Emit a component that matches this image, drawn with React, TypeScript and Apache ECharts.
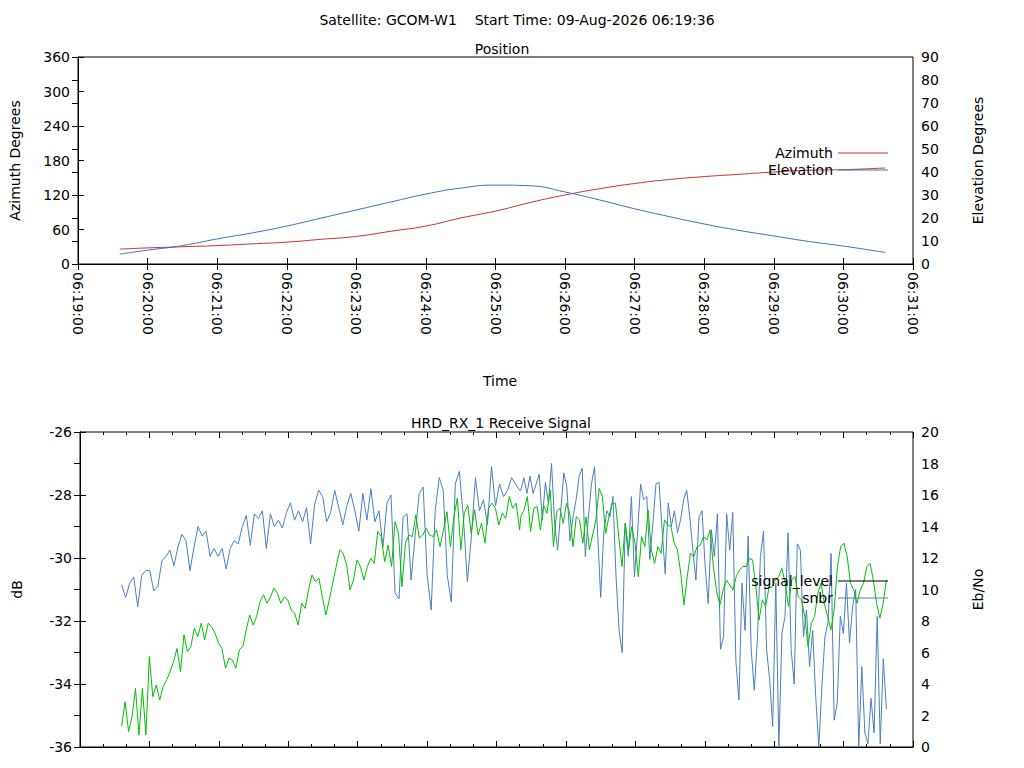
import { useEffect, useRef } from 'react'
import * as echarts from 'echarts'

// seconds after 06:19:00
const posTimes = [36, 60, 90, 120, 150, 180, 210, 240, 270, 300, 330, 360, 390, 420, 450, 480, 510, 540, 570, 600, 630, 660, 696]
const azimuth = [26, 28, 30, 32, 35, 38, 43, 48, 57, 66, 80, 92, 107, 120, 131, 140, 147, 152, 156, 160, 163, 164, 167]
const elevation = [4.3, 6, 8, 10.9, 13.5, 16.5, 20, 23.5, 27, 30.4, 33, 34.3, 34, 31.3, 27.8, 24, 20.6, 17.4, 14.6, 12.2, 9.8, 7.8, 5]

// snbr (Eb/No), two stretches of the pass
const snbrA = [10.3, 9.5, 10.4, 10.8, 8.9, 10.9, 11.2, 11.2, 9.9, 10.2, 11.8, 12.1, 12.5, 11.5, 12.7, 13.5, 13.1, 11.2, 12.7, 14.0, 13.4, 13.7, 12.1, 12.6, 12.1, 12.6, 11.3, 12.6, 13.1, 12.9, 14.0, 14.7, 12.8, 14.8, 14.5, 15.0, 12.6, 14.8, 14.0, 14.4, 13.9, 14.9, 15.5, 14.4, 15.0, 14.3, 15.2, 12.9, 15.4, 16.3, 15.9, 14.3, 14.9, 16.3, 15.2, 14.1, 15.3, 16.1, 15.0, 13.7, 16.1, 14.4, 16.4, 14.3, 15.0, 12.7, 15.5, 16.0, 9.8, 9.4, 14.6, 14.8, 10.6, 13.4, 16.1, 16.5, 10.9, 8.7, 15.0, 17.1, 16.3, 10.9, 9.2, 16.7, 17.5, 14.6, 10.5, 13.4, 17.1, 15.0, 15.7, 14.1, 17.8, 15.3, 16.7, 15.9, 16.3, 17.1, 16.7, 16.3]
const snbrB = [16.3, 17.1, 16.1, 17.2, 16.1, 16.7, 17.3, 14.4, 16.8, 15.5, 18.0, 14.2, 12.5, 15.0, 17.4, 16.5, 13.1, 14.6, 15.7, 17.2, 17.7, 12.1, 14.6, 16.7, 17.8, 13.6, 9.5, 13.6, 15.0, 14.6, 15.9, 10.8, 7.4, 6.0, 14.2, 12.1, 15.9, 10.8, 13.6, 16.7, 15.7, 15.9, 11.9, 14.2, 16.7, 16.8, 13.8, 11.0, 15.5, 14.0, 15.0, 13.6, 14.4, 15.7, 16.3, 14.6, 12.5, 10.6, 14.6, 15.0, 11.5, 9.1, 13.8, 12.1, 14.8, 6.2, 7.0, 14.8, 12.5, 14.9, 5.5, 3.0, 10.4, 7.4, 13.4, 6.2, 3.6, 6.8, 12.1, 13.7, 6.2, 4.3, 1.3, 10.4, 0, 7.2, 8.3, 13.6, 6.2, 4.0, 12.9, 12.5, 7.0, 8.7, 5.1, 7.4, 3.2, 0, 3.8, 7.0, 7.9, 12.3, 1.7, 2.8, 8.3, 7.2, 10.4, 6.6, 8.9, 10.0, 0, 5.1, 0.9, 0.2, 3.1, 0.9, 8.3, 0.2, 5.6, 2.4]

// signal level (dB)
const levelA = [-35.35, -34.56, -35.51, -35.04, -34.14, -35.62, -34.14, -35.62, -33.13, -34.40, -34.03, -34.51, -34.08, -33.87, -33.61, -33.29, -32.87, -33.61, -32.44, -32.97, -32.81, -32.23, -32.50, -32.07, -32.60, -32.07, -32.18, -32.39, -32.71, -32.87, -33.50, -33.18, -33.24, -33.50, -32.92, -32.81, -32.28, -31.81, -32.13, -31.86, -31.38, -31.17, -31.44, -31.23, -30.96, -31.12, -31.44, -31.23, -31.33, -31.65, -31.76, -32.13, -31.44, -31.60, -31.01, -30.54, -30.75, -30.64, -31.23, -31.81, -31.33, -30.80, -30.27, -29.74, -29.85, -30.22, -31.01, -30.70, -30.06, -30.27, -30.70, -30.27, -30.01, -30.17, -29.16, -29.32, -30.12, -29.59, -30.27, -28.85, -29.22, -30.91, -29.53, -29.27, -29.32, -28.63, -29.37, -29.27, -29.06, -29.27, -29.32, -29.11, -29.64, -29.11, -28.53, -29.64, -28.69, -28.10, -29.74, -28.58, -28.32, -29.22, -28.47, -29.27, -28.90, -29.53, -28.42, -28.26, -28.42, -28.95, -28.58, -28.74, -28.05, -28.42, -28.26, -29.11]
const levelB = [-28.69, -28.47, -28.05, -29.16, -28.42, -28.37, -29.11, -28.32, -28.58, -27.84, -29.64, -28.53, -28.42, -28.90, -28.26, -28.58, -29.64, -28.69, -28.79, -29.53, -28.69, -29.74, -29.27, -28.79, -27.79, -28.05, -29.22, -28.69, -28.26, -28.26, -29.32, -30.27, -28.90, -29.74, -29.00, -29.53, -30.59, -29.32, -29.64, -28.47, -29.74, -30.17, -29.64, -29.85, -28.79, -28.95, -29.00, -29.53, -29.74, -30.49, -31.49, -30.59, -29.85, -29.96, -29.64, -29.59, -29.32, -29.43, -29.11, -30.27, -31.07, -31.49, -31.01, -30.70, -30.86, -31.01, -30.59, -30.38, -30.27, -30.27, -30.01, -30.06, -30.91, -31.97, -31.33, -31.54, -30.96, -30.91, -30.70, -30.59, -30.33, -30.80, -31.54, -30.70, -30.59, -31.23, -31.33, -31.86, -32.81, -32.07, -31.86, -31.12, -30.80, -31.44, -31.86, -32.28, -31.65, -30.27, -29.64, -29.53, -29.96, -30.80, -31.01, -31.44, -31.01, -30.80, -30.27, -30.17, -30.70, -31.44, -31.91, -31.44, -30.70]

const spread = (vals: number[], t0: number, t1: number) =>
  vals.map((v, i) => [t0 + ((t1 - t0) * i) / (vals.length - 1), v])

const F = 'DejaVu Sans'
const fmt = (s: number) => {
  const m = 19 + Math.floor(s / 60)
  return `06:${String(m).padStart(2, '0')}:00`
}

const xBase = (show: boolean, grid: number, top = false) => ({
  type: 'value',
  gridIndex: grid,
  position: top ? 'top' : 'bottom',
  min: 0,
  max: 720,
  interval: 60,
  axisLine: { show: !top, lineStyle: { color: '#000' } },
  axisTick: { inside: true, length: 6, lineStyle: { color: '#000' } },
  minorTick: { show: grid === 1, splitNumber: 3, length: 3, lineStyle: { color: '#000' } },
  splitLine: { show: false },
  axisLabel: { show, rotate: -90, color: '#000', fontFamily: F, fontSize: 14, formatter: fmt, margin: 8 },
})

const yBase = (grid: number, pos: string, min: number, max: number, interval: number, name: string) => ({
  type: 'value',
  gridIndex: grid,
  position: pos,
  min,
  max,
  interval,
  name,
  nameLocation: 'middle',
  nameGap: pos === 'left' ? 56 : 58,
  nameTextStyle: { color: '#000', fontFamily: F, fontSize: 14 },
  axisLine: { show: true, lineStyle: { color: '#000' } },
  axisTick: { inside: true, length: 6, lineStyle: { color: '#000' } },
  splitLine: { show: false },
  axisLabel: { color: '#000', fontFamily: F, fontSize: 14, margin: 8 },
})

const App = () => {
  const ref = useRef<HTMLDivElement>(null)

  useEffect(() => {
    if (!ref.current) return
    const chart = echarts.init(ref.current, null, { renderer: 'svg' })
    chart.setOption({
      animation: false,
      backgroundColor: '#fff',
      textStyle: { fontFamily: F },
      title: [
        { text: 'Satellite: GCOM-W1    Start Time: 09-Aug-2026 06:19:36', left: 512, top: 8, textAlign: 'center', textStyle: { fontSize: 14, fontWeight: 'normal', color: '#000', fontFamily: F } },
        { text: 'Position', left: 497, top: 37, textAlign: 'center', textStyle: { fontSize: 14, fontWeight: 'normal', color: '#000', fontFamily: F } },
        { text: 'HRD_RX_1 Receive Signal', left: 496, top: 411, textAlign: 'center', textStyle: { fontSize: 14, fontWeight: 'normal', color: '#000', fontFamily: F } },
        { text: 'Time', left: 495, top: 369, textAlign: 'center', textStyle: { fontSize: 14, fontWeight: 'normal', color: '#000', fontFamily: F } },
      ],
      legend: [
        {
          orient: 'vertical', right: 131, top: 141, align: 'right', itemWidth: 50, itemHeight: 1, icon: 'rect', itemGap: 3,
          textStyle: { fontSize: 14, color: '#000', fontFamily: F },
          data: ['Azimuth', 'Elevation'],
        },
        {
          orient: 'vertical', right: 131, top: 569, align: 'right', itemWidth: 50, itemHeight: 1, icon: 'rect', itemGap: 3,
          textStyle: { fontSize: 14, color: '#000', fontFamily: F },
          data: [{ name: 'signal_level', itemStyle: { color: '#000' } }, 'snbr'],
        },
      ],
      grid: [
        { left: 78, right: 111, top: 57, height: 207, show: true, borderColor: '#000', borderWidth: 1, backgroundColor: 'transparent' },
        { left: 80, right: 111, top: 432, height: 315, show: true, borderColor: '#000', borderWidth: 1, backgroundColor: 'transparent' },
      ],
      xAxis: [xBase(true, 0), xBase(false, 1), xBase(false, 0, true), xBase(false, 1, true)],
      yAxis: [
        yBase(0, 'left', 0, 360, 60, 'Azimuth Degrees'),
        yBase(0, 'right', 0, 90, 10, 'Elevation Degrees'),
        yBase(1, 'left', -36, -26, 2, 'dB'),
        yBase(1, 'right', 0, 20, 2, 'Eb/No'),
      ],
      series: [
        { name: 'Azimuth', type: 'line', xAxisIndex: 0, yAxisIndex: 0, smooth: true, showSymbol: false, color: '#c83232', lineStyle: { width: 1 }, data: posTimes.map((t, i) => [t, azimuth[i]]) },
        { name: 'Elevation', type: 'line', xAxisIndex: 0, yAxisIndex: 1, smooth: true, showSymbol: false, color: '#3d72b8', lineStyle: { width: 1 }, data: posTimes.map((t, i) => [t, elevation[i]]) },
        { name: 'snbr', type: 'line', xAxisIndex: 1, yAxisIndex: 3, showSymbol: false, color: '#4a7fc0', lineStyle: { width: 1 }, data: [...spread(snbrA, 36, 380), ...spread(snbrB, 381, 697)] },
        { name: 'signal_level', type: 'line', xAxisIndex: 1, yAxisIndex: 2, showSymbol: false, color: '#00c000', lineStyle: { width: 1 }, data: [...spread(levelA, 36, 380), ...spread(levelB, 381, 697)] },
      ],
    })
    return () => chart.dispose()
  }, [])

  return <div ref={ref} style={{ position: 'absolute', left: 0, top: 0, width: 1024, height: 768, background: '#fff' }} />
}

export default App
